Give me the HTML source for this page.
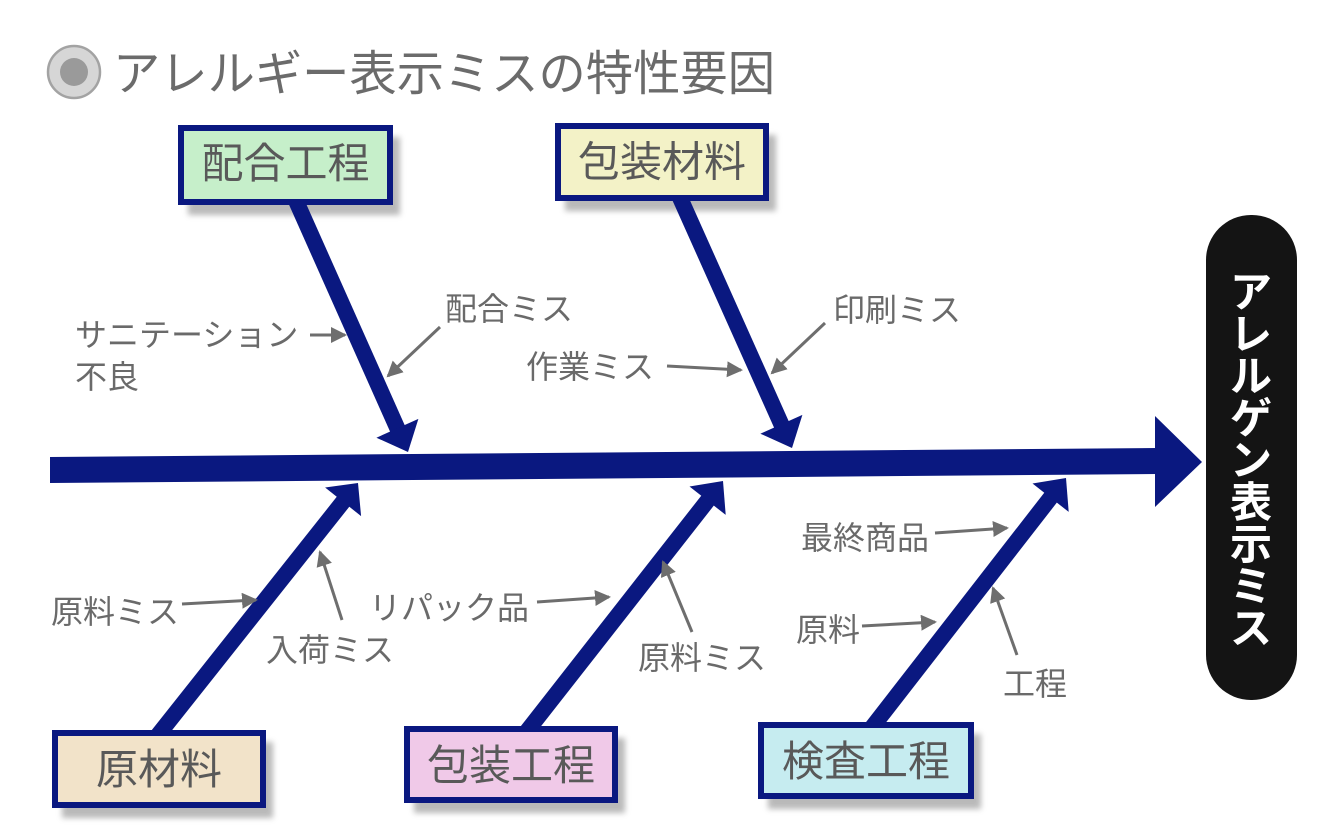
<!DOCTYPE html>
<html>
<head>
<meta charset="utf-8">
<style>
  html,body{margin:0;padding:0;background:#ffffff;}
  svg{display:block;}
  .lbl{font-family:"Liberation Sans","Noto Sans CJK JP",sans-serif;font-size:32px;fill:#6a6a6a;}
  .box{font-family:"Liberation Sans","Noto Sans CJK JP",sans-serif;font-size:42px;fill:#595959;}
  .ttl{font-family:"Liberation Sans","Noto Sans CJK JP",sans-serif;font-size:48px;fill:#6b6b6b;}
  .vt{font-family:"Liberation Sans","Noto Sans CJK JP",sans-serif;font-size:42px;font-weight:bold;fill:#ffffff;}
</style>
</head>
<body>
<svg width="1341" height="831" viewBox="0 0 1341 831" xmlns="http://www.w3.org/2000/svg">
  <defs>
    <marker id="ah" markerUnits="userSpaceOnUse" markerWidth="18" markerHeight="18" refX="14" refY="8" orient="auto">
      <path d="M0,0 L16,8 L0,16 z" fill="#6e6e6e"/>
    </marker>
    <filter id="sh" x="-20%" y="-20%" width="140%" height="160%">
      <feGaussianBlur stdDeviation="3"/>
    </filter>
  </defs>

  <!-- Title -->
  <circle cx="74" cy="72" r="26" fill="#d6d6d6" stroke="#a3a3a3" stroke-width="2.5"/>
  <circle cx="74" cy="72" r="14" fill="#9a9a9a"/>
  <text class="ttl" x="113" y="90" textLength="662" lengthAdjust="spacingAndGlyphs">アレルギー表示ミスの特性要因</text>

  <!-- Box shadows -->
  <g fill="#9c9c9c" opacity="0.7" filter="url(#sh)">
    <rect x="188" y="137" width="212" height="78"/>
    <rect x="565" y="135" width="211" height="76"/>
    <rect x="62" y="742" width="211" height="76"/>
    <rect x="414" y="738" width="211" height="75"/>
    <rect x="768" y="734" width="213" height="75"/>
  </g>

  <!-- Bones -->
  <g stroke="#0a1880" stroke-width="16" stroke-linecap="butt">
    <line x1="293" y1="194" x2="399" y2="432"/>
    <line x1="677" y1="191" x2="783" y2="428"/>
    <line x1="155.8" y1="737.8" x2="344.9" y2="499.4"/>
    <line x1="524" y1="735" x2="710" y2="497.5"/>
    <line x1="870" y1="730" x2="1053" y2="494.5"/>
  </g>
  <g fill="#0a1880">
    <polygon points="408,452 376.4,437.7 418.4,418.9"/>
    <polygon points="792,448 760.4,433.7 802.4,414.9"/>
    <polygon points="358,483 325.1,487.5 361.1,516.1"/>
    <polygon points="723,481 689.5,486.5 725.7,514.9"/>
    <polygon points="1066,478 1032.5,483.5 1068.7,511.9"/>
  </g>

  <!-- Main spine -->
  <polygon points="50,457 1157,448 1157,474 50,483" fill="#0a1880"/>
  <polygon points="1155,416 1202,462 1155,507" fill="#0a1880"/>

  <!-- Boxes -->
  <g stroke="#0a1880" stroke-width="6">
    <rect x="181" y="128" width="209" height="74" fill="#c6efca"/>
    <rect x="558" y="126" width="208" height="72" fill="#f3f2c7"/>
    <rect x="55" y="733" width="208" height="72" fill="#f2e3c9"/>
    <rect x="407" y="729" width="208" height="71" fill="#f0c9e8"/>
    <rect x="761" y="725" width="210" height="71" fill="#c6ecf0"/>
  </g>
  <text class="box" x="285.5" y="178" text-anchor="middle">配合工程</text>
  <text class="box" x="662" y="176.5" text-anchor="middle">包装材料</text>
  <text class="box" x="159" y="784" text-anchor="middle">原材料</text>
  <text class="box" x="511" y="780" text-anchor="middle">包装工程</text>
  <text class="box" x="866" y="776" text-anchor="middle">検査工程</text>

  <!-- Result pill -->
  <rect x="1206" y="215" width="91" height="485" rx="45" ry="45" fill="#141414"/>
  <g class="vt" text-anchor="middle">
    <text class="vt" x="1251" y="307">ア</text>
    <text class="vt" x="1251" y="349">レ</text>
    <text class="vt" x="1251" y="391">ル</text>
    <text class="vt" x="1251" y="433">ゲ</text>
    <text class="vt" x="1251" y="475">ン</text>
    <text class="vt" x="1251" y="517">表</text>
    <text class="vt" x="1251" y="559">示</text>
    <text class="vt" x="1251" y="601">ミ</text>
    <text class="vt" x="1251" y="643">ス</text>
  </g>

  <!-- Small gray arrows -->
  <g stroke="#6e6e6e" stroke-width="3" fill="none" marker-end="url(#ah)">
    <line x1="310" y1="335" x2="345" y2="335"/>
    <line x1="440" y1="327" x2="388" y2="376"/>
    <line x1="825" y1="323" x2="772" y2="373"/>
    <line x1="667" y1="366" x2="741" y2="370"/>
    <line x1="182" y1="604" x2="256" y2="600"/>
    <line x1="342" y1="620" x2="320" y2="552"/>
    <line x1="537" y1="602" x2="609" y2="597"/>
    <line x1="692" y1="632" x2="663" y2="562"/>
    <line x1="935" y1="533" x2="1007" y2="528"/>
    <line x1="862" y1="626" x2="935" y2="622"/>
    <line x1="1017" y1="655" x2="993" y2="588"/>
  </g>

  <!-- Labels -->
  <text class="lbl" x="75" y="346">サニテーション</text>
  <text class="lbl" x="75" y="388">不良</text>
  <text class="lbl" x="445" y="320">配合ミス</text>
  <text class="lbl" x="833" y="321">印刷ミス</text>
  <text class="lbl" x="526" y="378">作業ミス</text>
  <text class="lbl" x="51" y="623">原料ミス</text>
  <text class="lbl" x="266" y="661">入荷ミス</text>
  <text class="lbl" x="369" y="619">リパック品</text>
  <text class="lbl" x="638" y="669">原料ミス</text>
  <text class="lbl" x="801" y="549">最終商品</text>
  <text class="lbl" x="796" y="641">原料</text>
  <text class="lbl" x="1003" y="695">工程</text>
</svg>
</body>
</html>
